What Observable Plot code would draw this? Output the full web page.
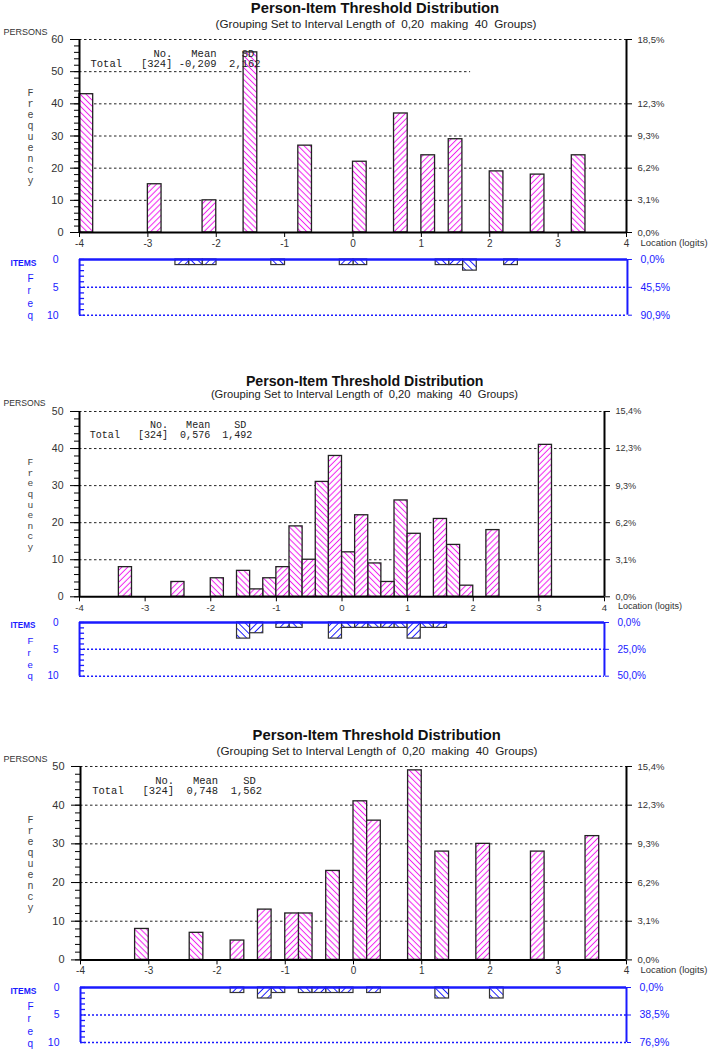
<!DOCTYPE html>
<html><head><meta charset="utf-8">
<script src="https://cdn.jsdelivr.net/npm/d3@7"></script>
<script src="https://cdn.jsdelivr.net/npm/@observablehq/plot@0.6"></script>
<style>
html,body{margin:0;padding:0;background:#fff;}
#root{position:relative;width:709px;height:1050px;overflow:hidden;background:#fff;font-family:"Liberation Sans",Arial,sans-serif;}
.box{position:absolute;left:0;}
.ttl{position:absolute;transform:translate(-50%,-50%);white-space:pre;line-height:1;}
</style></head><body>
<div id="root"></div>
<script>
// ---------------- DATA ----------------
const titleText = "Person-Item Threshold Distribution";
const subtitleText = "(Grouping Set to Interval Length of  0,20  making  40  Groups)";
const xTicks = [-4, -3, -2, -1, 0, 1, 2, 3, 4];

// Panel 1
const p1PersonBins   = [-4.0, -3.0, -2.2, -1.6, -0.8, 0.0, 0.6, 1.0, 1.4, 2.0, 2.6, 3.2];
const p1PersonCounts = [43, 15, 10, 56, 27, 22, 37, 24, 29, 19, 18, 24];
const p1ItemBins     = [-2.6, -2.4, -2.2, -1.2, -0.2, 0.0, 1.2, 1.4, 1.6, 2.2];
const p1ItemCounts   = [1, 1, 1, 1, 1, 1, 1, 1, 2, 1];
const p1PersonTotal = 324, p1ItemTotal = 11;
const p1YTicks   = [0, 10, 20, 30, 40, 50, 60];
const p1PctTicks = [0, 10, 20, 30, 40, 60];
const p1Grid     = [10, 20, 30, 40, 60];
const p1PartialGrid = [{y: 50, to: 1.72}];
const p1StatsHead = "          No.   Mean    SD";
const p1StatsRow  = "Total   [324] -0,209  2,162";

// Panel 2
const p2PersonBins   = [-3.4, -2.6, -2.0, -1.6, -1.4, -1.2, -1.0, -0.8, -0.6, -0.4, -0.2, 0.0, 0.2, 0.4, 0.6, 0.8, 1.0, 1.4, 1.6, 1.8, 2.2, 3.0];
const p2PersonCounts = [8, 4, 5, 7, 2, 5, 8, 19, 10, 31, 38, 12, 22, 9, 4, 26, 17, 21, 14, 3, 18, 41];
const p2ItemBins     = [-1.6, -1.4, -1.0, -0.8, -0.2, 0.0, 0.2, 0.4, 0.6, 0.8, 1.0, 1.2, 1.4];
const p2ItemCounts   = [3, 2, 1, 1, 3, 1, 1, 1, 1, 1, 3, 1, 1];
const p2PersonTotal = 324, p2ItemTotal = 20;
const p2YTicks   = [0, 10, 20, 30, 40, 50];
const p2PctTicks = [0, 10, 20, 30, 40, 50];
const p2Grid     = [10, 20, 30, 40, 50];
const p2StatsHead = "          No.   Mean    SD";
const p2StatsRow  = "Total   [324]  0,576  1,492";

// Panel 3
const p3PersonBins   = [-3.2, -2.4, -1.8, -1.4, -1.0, -0.8, -0.4, 0.0, 0.2, 0.8, 1.2, 1.8, 2.6, 3.4];
const p3PersonCounts = [8, 7, 5, 13, 12, 12, 23, 41, 36, 49, 28, 30, 28, 32];
const p3ItemBins     = [-1.8, -1.4, -1.2, -0.8, -0.6, -0.4, -0.2, 0.2, 1.2, 2.0];
const p3ItemCounts   = [1, 2, 1, 1, 1, 1, 1, 1, 2, 2];
const p3PersonTotal = 324, p3ItemTotal = 13;
const p3YTicks   = [0, 10, 20, 30, 40, 50];
const p3PctTicks = [0, 10, 20, 30, 40, 50];
const p3Grid     = [10, 20, 30, 40, 50];
const p3StatsHead = "          No.   Mean    SD";
const p3StatsRow  = "Total   [324]  0,748  1,562";

const itemYTicks = [0, 5, 10];

// ---------------- DRAWING ----------------
const W = 709;
const BLUE = "#1a1aff";
const PINK = "#f020f0";
const root = document.getElementById("root");
const pct = total => d => (d / total * 100).toFixed(1).replace(".", ",") + "%";
const nb = s => s.replace(/ /g, "\u00a0");
function bins(starts, counts) {
  return starts.map((s, i) => ({x1: s, x2: s + 0.2, count: counts[i], odd: Math.round((s + 4) / 0.2) % 2 === 1}));
}
const baseStyle = {background: "none", fontFamily: "Liberation Sans, Arial, sans-serif", overflow: "visible"};

function addTitle(cx, cy, size, bold, text, color) {
  const d = document.createElement("div");
  d.className = "ttl";
  d.style.left = cx + "px"; d.style.top = cy + "px";
  d.style.fontSize = size + "px"; d.style.fontWeight = bold ? "bold" : "normal";
  d.style.color = color;
  d.textContent = text;
  root.appendChild(d);
}

function addPatterns(svg, defsList) {
  const defs = d3.select(svg).insert("defs", ":first-child");
  for (const p of defsList) {
    const pat = defs.append("pattern")
      .attr("id", p.id).attr("patternUnits", "userSpaceOnUse")
      .attr("width", p.size).attr("height", p.size)
      .attr("patternTransform", `rotate(${p.angle})`);
    pat.append("rect").attr("width", p.size).attr("height", p.size).attr("fill", "#fff");
    pat.append("line").attr("x1", p.size / 2).attr("x2", p.size / 2).attr("y1", -1).attr("y2", p.size + 1)
      .attr("stroke", p.color).attr("stroke-width", p.width);
  }
}

function place(svg, top) {
  const d = document.createElement("div");
  d.className = "box"; d.style.top = top + "px";
  d.appendChild(svg); root.appendChild(d);
}

function personPlot(c, k) {
  const mt = 22, mb = 24, s = c.scale;
  const data = bins(c.bins, c.counts);
  const idA = `pp${k}a`, idB = `pp${k}b`;
  const svg = Plot.plot({
    width: W, height: mt + (c.B - c.T) + mb,
    marginTop: mt, marginBottom: mb, marginLeft: c.L, marginRight: W - c.R,
    style: baseStyle,
    x: {domain: [-4, 4], label: null},
    y: {domain: [0, c.ymax], label: null},
    marks: [
      Plot.ruleY(c.grid, {stroke: "#222", strokeDasharray: "2.5,2.5", strokeWidth: 1}),
      Plot.ruleY(c.partial || [], {y: "y", x1: -4, x2: "to", stroke: "#222", strokeDasharray: "2.5,2.5", strokeWidth: 1}),
      Plot.rectY(data.filter(d => !d.odd), {x1: "x1", x2: "x2", y1: 0, y2: "count", fill: `url(#${idA})`, stroke: "#222", strokeWidth: 1.3}),
      Plot.rectY(data.filter(d => d.odd), {x1: "x1", x2: "x2", y1: 0, y2: "count", fill: `url(#${idB})`, stroke: "#222", strokeWidth: 1.3}),
      Plot.ruleY([0], {stroke: "#000", strokeWidth: 2}),
      Plot.ruleX([-4], {stroke: "#000", strokeWidth: 2}),
      Plot.ruleX([4], {stroke: "#000", strokeWidth: 2}),
      Plot.axisY({anchor: "left", ticks: c.yTicks, tickSize: 9, tickPadding: 7, label: null, tickFormat: d => String(d), fontSize: 11 * s, fill: "#333", stroke: "#000"}),
      Plot.axisY({anchor: "left", ticks: d3.range(0, c.ymax + 1, 2), tickSize: 5, label: null, tickFormat: () => "", stroke: "#000"}),
      Plot.axisY({anchor: "right", ticks: c.pctTicks, tickSize: 5, tickPadding: 6, label: null, tickFormat: pct(c.total), fontSize: 9.5 * s, fill: "#333", stroke: "#000"}),
      Plot.axisX({ticks: xTicks, tickSize: 5, tickPadding: 2, label: null, tickFormat: d => String(d), fontSize: 10 * s, fill: "#333", stroke: "#000"}),
      Plot.text(["Location (logits)"], {text: d => d, frameAnchor: "bottom-right", textAnchor: "start", dx: 14 * s, dy: 13 * s, fontSize: 9.5 * s, fill: "#333"}),
      Plot.text(["PERSONS"], {text: d => d, frameAnchor: "top-left", textAnchor: "start", dx: 3 - c.L, dy: -11.3, fontSize: 9 * s, fill: "#333"}),
      Plot.text(["F\nr\ne\nq\nu\ne\nn\nc\ny"], {text: d => d, frameAnchor: "left", dx: 27 - c.L, fontFamily: "Liberation Mono, monospace", fontSize: 10 * s, lineHeight: 1.1, fill: "#444"}),
      Plot.text([nb(c.head)], {text: d => d, frameAnchor: "top-left", textAnchor: "start", dx: c.sdx, dy: 10 * s, fontFamily: "Liberation Mono, monospace", fontSize: 10.5 * s, fill: "#222"}),
      Plot.text([nb(c.row)], {text: d => d, frameAnchor: "top-left", textAnchor: "start", dx: c.sdx, dy: 20 * s, fontFamily: "Liberation Mono, monospace", fontSize: 10.5 * s, fill: "#222"})
    ]
  });
  addPatterns(svg, [
    {id: idA, size: 4.2, angle: -45, color: PINK, width: 1},
    {id: idB, size: 4.2, angle: 45, color: PINK, width: 1}
  ]);
  place(svg, c.T - mt);
}

function itemPlot(c, k) {
  const mt = 10, mb = 8, s = c.scale;
  const data = bins(c.ibins, c.icounts);
  const idA = `ip${k}a`, idB = `ip${k}b`;
  const svg = Plot.plot({
    width: W, height: mt + (c.IB - c.IT) + mb,
    marginTop: mt, marginBottom: mb, marginLeft: c.L, marginRight: W - c.IR,
    style: baseStyle,
    x: {domain: [-4, 4], label: null, axis: null},
    y: {domain: [0, 10], reverse: true, label: null},
    marks: [
      Plot.ruleY([5, 10], {stroke: BLUE, strokeDasharray: "2,2", strokeWidth: 1.5}),
      Plot.rectY(data.filter(d => !d.odd), {x1: "x1", x2: "x2", y1: 0, y2: "count", fill: `url(#${idA})`, stroke: "#333", strokeWidth: 1.2}),
      Plot.rectY(data.filter(d => d.odd), {x1: "x1", x2: "x2", y1: 0, y2: "count", fill: `url(#${idB})`, stroke: "#333", strokeWidth: 1.2}),
      Plot.ruleY([0], {stroke: BLUE, strokeWidth: 2.5}),
      Plot.ruleX([-4], {stroke: BLUE, strokeWidth: 2}),
      Plot.ruleX([4], {stroke: BLUE, strokeWidth: 2}),
      Plot.tickY(d3.range(0, 11), {stroke: BLUE, strokeWidth: 1.3, insetRight: (c.IR - c.L) - 5}),
      Plot.axisY({anchor: "left", ticks: itemYTicks, tickSize: 0, tickPadding: 21, label: null, tickFormat: d => String(d), fontSize: 10.5 * s, fill: BLUE}),
      Plot.axisY({anchor: "right", ticks: itemYTicks, tickSize: 4, tickPadding: 9, label: null, tickFormat: pct(c.itotal), fontSize: 10.5 * s, fill: BLUE, stroke: BLUE}),
      Plot.text(["ITEMS"], {text: d => d, frameAnchor: "top-left", textAnchor: "start", dx: 10 - c.L, fontWeight: "bold", fontSize: 8.5 * s, fill: BLUE}),
      Plot.text(["F\nr\ne\nq"], {text: d => d, frameAnchor: "top-left", lineAnchor: "top", dx: 27 - c.L, dy: 14 * s, fontSize: 10 * s, lineHeight: 1.22, fill: BLUE})
    ]
  });
  addPatterns(svg, [
    {id: idA, size: 4.8, angle: -45, color: BLUE, width: 1},
    {id: idB, size: 4.8, angle: 45, color: BLUE, width: 1}
  ]);
  place(svg, c.IT - mt);
}

const panels = [
  {tx: 375, ty: 8.3, sx: 376, sy: 24, scale: 1, L: 79, R: 626, T: 39.3, B: 232.3, ymax: 60, IT: 259.3, IB: 315, IR: 627, sdx: 11,
   bins: p1PersonBins, counts: p1PersonCounts, total: p1PersonTotal, ibins: p1ItemBins, icounts: p1ItemCounts, itotal: p1ItemTotal,
   yTicks: p1YTicks, pctTicks: p1PctTicks, grid: p1Grid, partial: p1PartialGrid, head: p1StatsHead, row: p1StatsRow},
  {tx: 364.7, ty: 380.7, sx: 364.5, sy: 395, scale: 0.957, L: 79, R: 604, T: 410.7, B: 596, ymax: 50, IT: 622.3, IB: 676, IR: 604, sdx: 10.3,
   bins: p2PersonBins, counts: p2PersonCounts, total: p2PersonTotal, ibins: p2ItemBins, icounts: p2ItemCounts, itotal: p2ItemTotal,
   yTicks: p2YTicks, pctTicks: p2PctTicks, grid: p2Grid, head: p2StatsHead, row: p2StatsRow},
  {tx: 376.7, ty: 735, sx: 377, sy: 751, scale: 1, L: 80, R: 626, T: 766, B: 959.4, ymax: 50, IT: 986.7, IB: 1041.7, IR: 626, sdx: 11.7,
   bins: p3PersonBins, counts: p3PersonCounts, total: p3PersonTotal, ibins: p3ItemBins, icounts: p3ItemCounts, itotal: p3ItemTotal,
   yTicks: p3YTicks, pctTicks: p3PctTicks, grid: p3Grid, head: p3StatsHead, row: p3StatsRow}
];

panels.forEach((c, k) => {
  personPlot(c, k);
  itemPlot(c, k);
  addTitle(c.tx, c.ty, 14.8 * c.scale, true, titleText, "#111");
  addTitle(c.sx, c.sy, 11.7 * c.scale, false, subtitleText, "#222");
});
</script>
</body></html>
